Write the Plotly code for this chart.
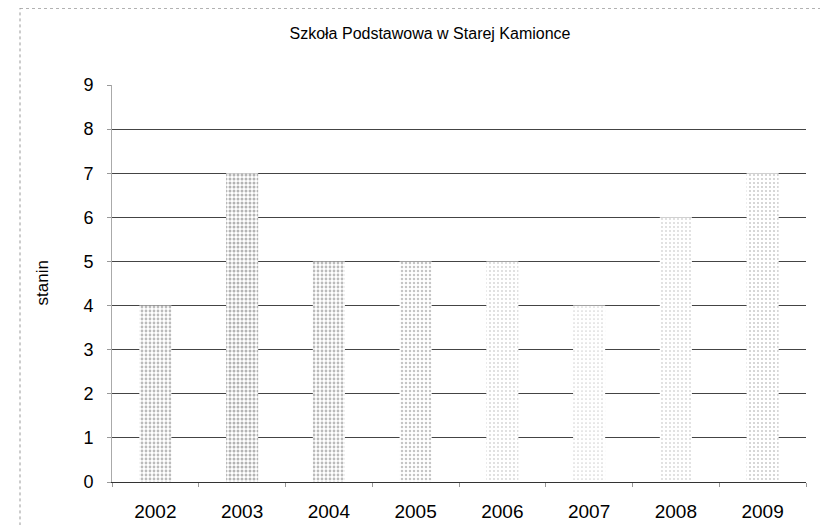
import plotly.graph_objects as go

years = ["2002", "2003", "2004", "2005", "2006", "2007", "2008", "2009"]
stanin = [4, 7, 5, 5, 5, 4, 6, 7]
y_ticks = [0, 1, 2, 3, 4, 5, 6, 7, 8, 9]

# stipple density per bar (visual style)
dot_solidity = [0.38, 0.45, 0.38, 0.3, 0.16, 0.15, 0.16, 0.22]
dot_color = ["#787878", "#6a6a6a", "#787878", "#8a8a8a", "#a5a5a5", "#aaaaaa", "#a8a8a8", "#999999"]

font = "Liberation Sans, Arial, sans-serif"

W, H = 820, 517
L, R, T, B = 104, 22, 77, 43
PW, PH = W - L - R, H - T - B

fig = go.Figure()
fig.add_trace(go.Bar(
    x=years, y=stanin,
    marker=dict(
        color="white",
        line=dict(width=0),
        pattern=dict(shape=".", size=4, solidity=dot_solidity,
                     fgcolor=dot_color, bgcolor="white", fillmode="overlay"),
    ),
    showlegend=False,
))

fig.update_layout(
    width=W, height=H,
    paper_bgcolor="white", plot_bgcolor="white",
    margin=dict(l=L, r=R, t=T, b=B),
    bargap=0.63,
    font=dict(family=font, color="black"),
    title=dict(text="Szkoła Podstawowa w Starej Kamionce", x=422 / W, xanchor="center",
               y=1 - 25 / H, yanchor="middle", font=dict(size=16, family=font)),
    xaxis=dict(showgrid=False, showline=True, linecolor="#333", linewidth=1,
               ticks="outside", tickson="boundaries", ticklen=4, tickcolor="#999",
               ticklabelstandoff=12, automargin=False,
               tickfont=dict(size=19, family=font), zeroline=False),
    yaxis=dict(range=[0, 9], tickvals=y_ticks, showgrid=True, gridcolor="#444",
               gridwidth=1, showline=True, linecolor="#aaa", linewidth=1,
               zeroline=False, automargin=False,
               ticks="outside", ticklen=4, tickcolor="#999",
               ticklabelstandoff=10,
               tickfont=dict(size=18, family=font)),
    annotations=[
        dict(text="stanin", xref="paper", yref="paper", x=(34 - L) / PW, y=0.5,
             xanchor="center", yanchor="middle", textangle=-90, showarrow=False,
             font=dict(size=17, family=font)),
    ],
    shapes=[
        dict(type="line", xref="paper", yref="paper", x0=(12 - L) / PW, x1=1.2,
             y0=1 + T / PH, y1=1 + T / PH,
             line=dict(color="#666", width=1, dash="dot")),
        dict(type="line", xref="paper", yref="paper", x0=(12 - L) / PW, x1=(12 - L) / PW,
             y0=-0.2, y1=1 + T / PH,
             line=dict(color="#999", width=1, dash="dot")),
    ],
)

fig.write_html("out.html")
